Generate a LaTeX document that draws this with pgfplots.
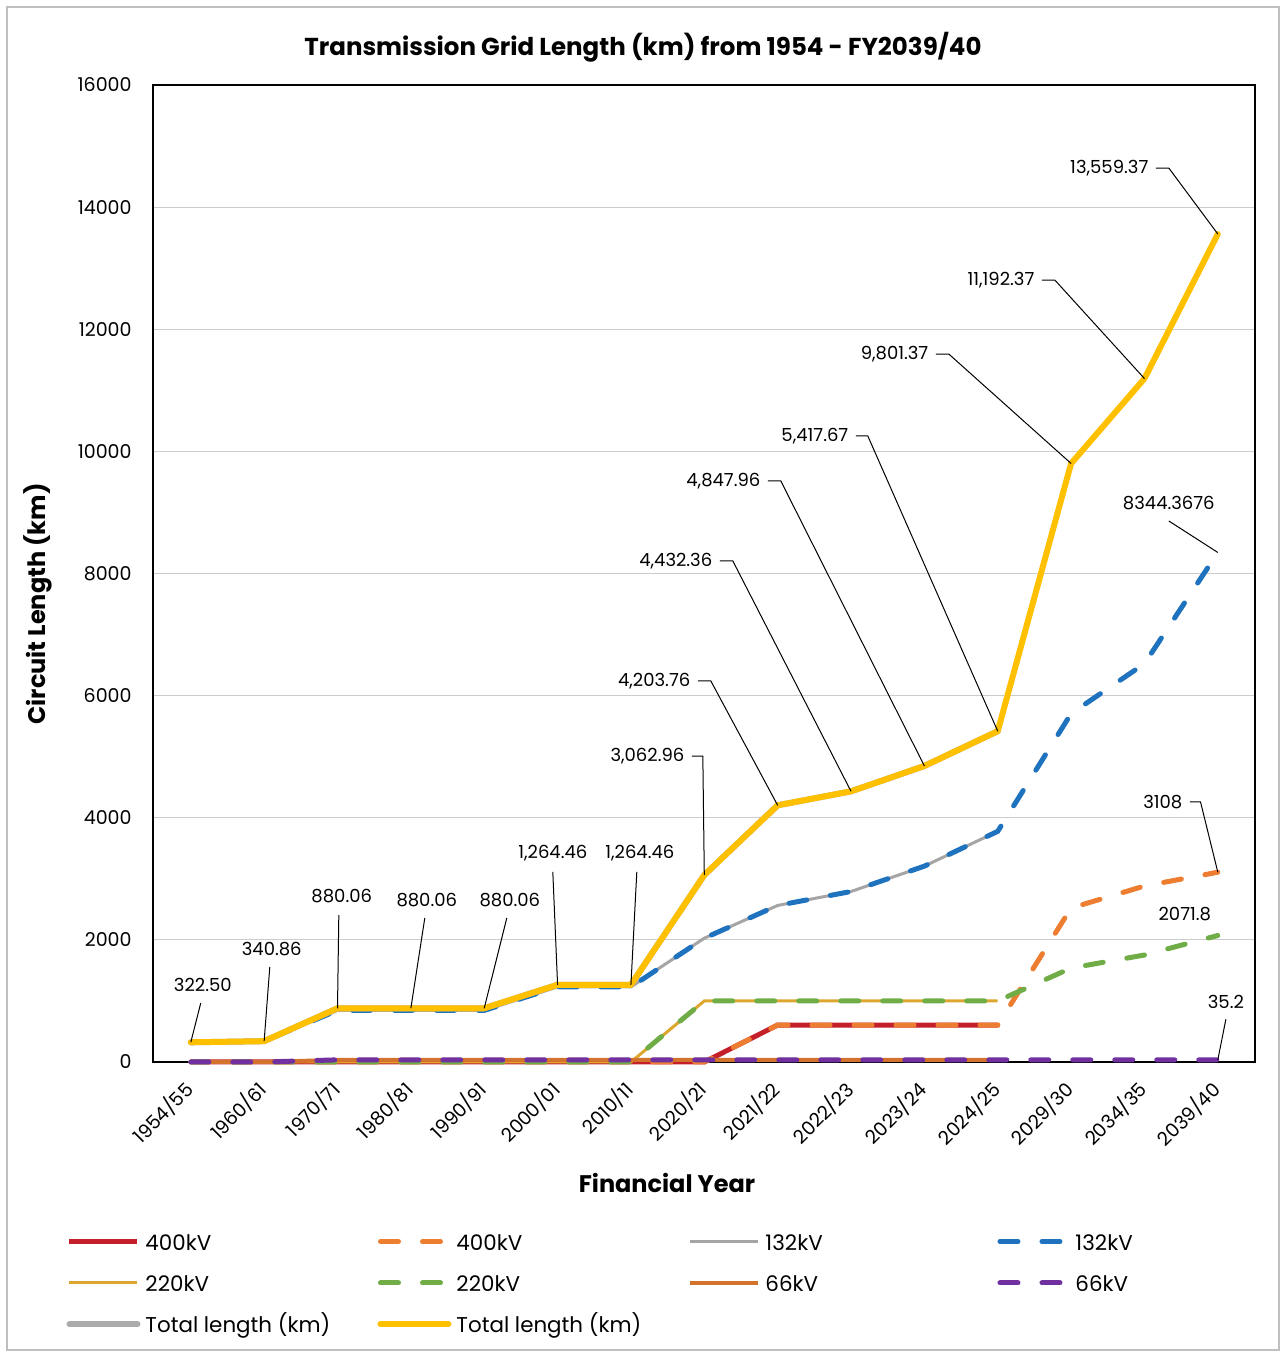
\documentclass[border=0pt]{standalone}
\usepackage{fontspec}
\setmainfont{Poppins}
\usepackage{pgfplots}
\usepackage{pgfplotstable}
\pgfplotsset{compat=1.18}

\definecolor{cA}{HTML}{C5202A}   % 400kV
\definecolor{cAp}{HTML}{ED7D31}  % 400kV projected
\definecolor{cB}{HTML}{A5A5A5}   % 132kV
\definecolor{cBp}{HTML}{1F72BE}  % 132kV projected
\definecolor{cC}{HTML}{DDA62E}   % 220kV
\definecolor{cCp}{HTML}{70AD47}  % 220kV projected
\definecolor{cD}{HTML}{D2722D}   % 66kV
\definecolor{cDp}{HTML}{7030A0}  % 66kV projected
\definecolor{cTg}{HTML}{ABABAB}
\definecolor{cTy}{HTML}{FFC000}

% circuit length by voltage level (km); idx 0..14 = financial years
\pgfplotstableread{
idx kvA    kvB      kvC    kvD  total
0   0      322.5    0      0    322.5
1   0      340.86   0      0    340.86
2   0      844.86   0      35.2 880.06
3   0      844.86   0      35.2 880.06
4   0      844.86   0      35.2 880.06
5   0      1229.26  0      35.2 1264.46
6   0      1229.26  0      35.2 1264.46
7   0      2027.76  1000   35.2 3062.96
8   605    2563.56  1000   35.2 4203.76
9   605    2792.16  1000   35.2 4432.36
10  605    3207.76  1000   35.2 4847.96
11  605    3777.47  1000   35.2 5417.67
12  2522   5705.17  1539   35.2 9801.37
13  2882   6523.17  1752   35.2 11192.37
14  3108   8344.37  2071.8 35.2 13559.37
}\gridtable

\newcommand{\lab}{\fontsize{9}{11}\selectfont}
\newcommand{\legtext}[1]{\makebox[116pt][l]{\vphantom{Tg()}#1}}

\begin{document}
\begin{tikzpicture}
\path[use as bounding box] (0pt,0pt) rectangle (643pt,677pt);
\draw[black!25, line width=0.6pt] (3.5pt,2pt) rectangle (639.5pt,673.5pt);

\begin{axis}[
  at={(76.5pt,146pt)}, anchor=south west,
  scale only axis, width=551pt, height=488.5pt,
  xmin=-0.515, xmax=14.507, ymin=0, ymax=16000,
  xtick={0,...,14},
  xticklabels={1954/55,1960/61,1970/71,1980/81,1990/91,2000/01,2010/11,2020/21,2021/22,2022/23,2023/24,2024/25,2029/30,2034/35,2039/40},
  ytick={0,2000,...,16000},
  major tick length=0pt,
  ymajorgrids, grid style={color=black!20, line width=0.6pt},
  axis line style={black, line width=0.9pt},
  scaled y ticks=false,
  /pgf/number format/assume math mode=true,
  /pgf/number format/1000 sep={},
  tick label style={font=\fontsize{9.5}{11}\selectfont},
  yticklabel style={anchor=east, inner sep=0pt, xshift=-10.5pt},
  xticklabel style={xshift=-0.5pt, yshift=-12pt, rotate=45, anchor=east, inner sep=0pt},
  clip=false,
  every axis title shift=0pt,
  title={\bfseries Transmission Grid Length (km) from 1954 - FY2039/40},
  title style={at={(axis description cs:0.4446,1.0389)}, anchor=center, font=\fontsize{12.25}{14}\selectfont},
  xlabel={\bfseries Financial Year},
  xlabel style={at={(axis description cs:0.4664,-0.1238)}, anchor=center, font=\fontsize{12}{14}\selectfont},
  ylabel={\bfseries Circuit Length (km)},
  ylabel style={at={(axis description cs:-0.1044,0.4688)}, anchor=center, font=\fontsize{12}{14}\selectfont},
  legend columns=4,
  legend cell align=left,
  legend image code/.code={\draw[#1] (0pt,0pt) -- (34pt,0pt);},
  legend style={at={(axis description cs:-0.0843,-0.1675)}, anchor=north west,
    draw=none, fill=none, font=\fontsize{10.7}{12}\selectfont,
    row sep=9.2pt, nodes={inner sep=0pt},
    /tikz/every odd column/.append style={column sep=2.5pt}},
]
% historical lengths (solid) and projections (dashed)
\addplot[cA, line width=2.5pt, restrict x to domain=0:11] table[x=idx, y=kvA] {\gridtable};
\addlegendentry{\legtext{400kV}}
\addplot[cAp, line width=2.5pt, line cap=round, dash pattern=on 9pt off 12pt] table[x=idx, y=kvA] {\gridtable};
\addlegendentry{\legtext{400kV}}
\addplot[cB, line width=1.5pt, restrict x to domain=0:11] table[x=idx, y=kvB] {\gridtable};
\addlegendentry{\legtext{132kV}}
\addplot[cBp, line width=2.5pt, line cap=round, dash pattern=on 9pt off 12pt] table[x=idx, y=kvB] {\gridtable};
\addlegendentry{\legtext{132kV}}
\addplot[cC, line width=1.5pt, restrict x to domain=0:11] table[x=idx, y=kvC] {\gridtable};
\addlegendentry{\legtext{220kV}}
\addplot[cCp, line width=2.5pt, line cap=round, dash pattern=on 9pt off 12pt] table[x=idx, y=kvC] {\gridtable};
\addlegendentry{\legtext{220kV}}
\addplot[cD, line width=2pt, restrict x to domain=0:11] table[x=idx, y=kvD] {\gridtable};
\addlegendentry{\legtext{66kV}}
\addplot[cDp, line width=2.5pt, line cap=round, dash pattern=on 9pt off 12pt] table[x=idx, y=kvD] {\gridtable};
\addlegendentry{\legtext{66kV}}
\addplot[cTg, line width=3pt, line cap=round, restrict x to domain=0:11] table[x=idx, y=total] {\gridtable};
\addlegendentry{\legtext{Total length (km)}}
\addplot[cTy, line width=3pt, line cap=round, line join=round] table[x=idx, y=total] {\gridtable};
\addlegendentry{\legtext{Total length (km)}}

% data labels with leader lines
\begin{scope}[line width=0.5pt, black]
\draw (axis cs:0,322.5) -- (axis cs:0.136,966);
\node[font=\lab] at (axis cs:0.164,1261) {322.50};
\draw (axis cs:1,340.86) -- (axis cs:1.077,1556);
\node[font=\lab] at (axis cs:1.104,1851) {340.86};
\draw (axis cs:2,880.06) -- (axis cs:2.018,2407);
\node[font=\lab] at (axis cs:2.058,2719) {880.06};
\draw (axis cs:3,880.06) -- (axis cs:3.19,2358);
\node[font=\lab] at (axis cs:3.217,2653) {880.06};
\draw (axis cs:4,880.06) -- (axis cs:4.308,2358);
\node[font=\lab] at (axis cs:4.349,2653) {880.06};
\draw (axis cs:5,1264.46) -- (axis cs:4.935,3112);
\node[font=\lab] at (axis cs:4.935,3423) {1,264.46};
\draw (axis cs:6,1264.46) -- (axis cs:6.08,3112);
\node[font=\lab] at (axis cs:6.121,3423) {1,264.46};
\draw (axis cs:7,3062.96) -- (axis cs:6.98,5011) -- (axis cs:6.83,5011) node[font=\lab, anchor=east, inner sep=3.5pt] {3,062.96};
\draw (axis cs:8,4203.76) -- (axis cs:7.089,6240) -- (axis cs:6.911,6240) node[font=\lab, anchor=east, inner sep=3.5pt] {4,203.76};
\draw (axis cs:9,4432.36) -- (axis cs:7.389,8205) -- (axis cs:7.211,8205) node[font=\lab, anchor=east, inner sep=3.5pt] {4,432.36};
\draw (axis cs:10,4847.96) -- (axis cs:8.043,9515) -- (axis cs:7.866,9515) node[font=\lab, anchor=east, inner sep=3.5pt] {4,847.96};
\draw (axis cs:11,5417.67) -- (axis cs:9.229,10252) -- (axis cs:9.065,10252) node[font=\lab, anchor=east, inner sep=3.5pt] {5,417.67};
\draw (axis cs:12,9801.37) -- (axis cs:10.333,11594) -- (axis cs:10.156,11594) node[font=\lab, anchor=east, inner sep=3.5pt] {9,801.37};
\draw (axis cs:13,11192.37) -- (axis cs:11.778,12806) -- (axis cs:11.601,12806) node[font=\lab, anchor=east, inner sep=3.5pt] {11,192.37};
\draw (axis cs:14,13559.37) -- (axis cs:13.332,14640) -- (axis cs:13.155,14640) node[font=\lab, anchor=east, inner sep=3.5pt] {13,559.37};
\draw (axis cs:14,8344.37) -- (axis cs:13.332,8860);
\node[font=\lab] at (axis cs:13.332,9155) {8344.3676};
\draw (axis cs:14,3108) -- (axis cs:13.764,4260) -- (axis cs:13.618,4260) node[font=\lab, anchor=east, inner sep=3.5pt] {3108};
\node[font=\lab] at (axis cs:13.55,2424) {2071.8};
\draw (axis cs:14,35.2) -- (axis cs:14.11,700);
\node[font=\lab] at (axis cs:14.11,983) {35.2};
\end{scope}
\end{axis}
\end{tikzpicture}
\end{document}
